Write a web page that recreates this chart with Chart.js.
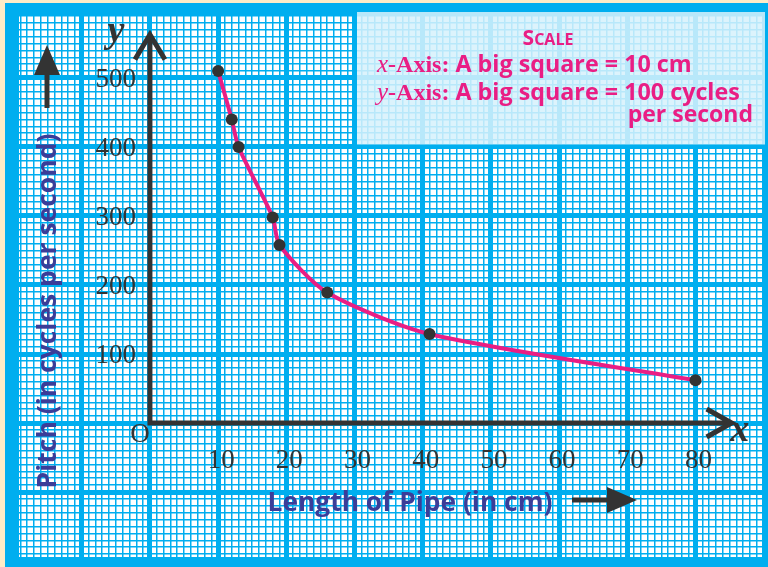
<!DOCTYPE html>
<html>
<head>
<meta charset="utf-8">
<script src="https://cdn.jsdelivr.net/npm/chart.js@4/dist/chart.umd.min.js"></script>
<style>
  html, body { margin: 0; padding: 0; background: #fdecc8; }
  #wrap { width: 768px; height: 567px; }
</style>
</head>
<body>
<div id="wrap"><canvas id="c" width="768" height="567"></canvas></div>
<script>
// ---- data ----
const lengthCm = [10, 12, 13, 18, 19, 26, 41, 80];
const pitchHz  = [510, 440, 400, 298, 258, 189, 129, 62];
const xTickLabels = ['10', '20', '30', '40', '50', '60', '70', '80'];
const yTickLabels = ['100', '200', '300', '400', '500'];
const xTitle = 'Length of Pipe (in cm)';
const yTitle = 'Pitch (in cycles per second)';
const scaleHeading = 'Scale';
const scaleLineX = ['x', '-Axis:', ' A big square = 10 cm'];
const scaleLineY = ['y', '-Axis:', ' A big square = 100 cycles'];
const scaleLineY2 = 'per second';

// ---- style ----
const BLUE = '#00aeef';
const CREAM = '#fdecc8';
const PINK = '#e91e84';
const DARK = '#333333';
const INDIGO = '#3b3d98';
const X_MIN = -19.2, X_MAX = 89.75;
const Y_MIN = -194.2, Y_MAX = 591.3;

function gridValues(min, max, step) {
  const out = [];
  for (let v = Math.ceil(min / step) * step; v <= max; v += step) out.push({ value: Math.round(v * 1000) / 1000 });
  return out;
}

const paperPlugin = {
  id: 'paper',
  beforeDraw(chart) {
    const { ctx, chartArea: a } = chart;
    ctx.save();
    ctx.fillStyle = CREAM;
    ctx.fillRect(0, 0, chart.width, chart.height);
    ctx.fillStyle = BLUE;
    ctx.fillRect(5, 3, chart.width - 5, chart.height - 3);
    ctx.fillStyle = '#ffffff';
    ctx.fillRect(a.left, a.top, a.right - a.left, a.bottom - a.top);
    ctx.restore();
  }
};

function fitFont(ctx, text, style, family, target) {
  ctx.font = style + ' 20px ' + family;
  const w = ctx.measureText(text).width;
  return 20 * target / w;
}

const decoPlugin = {
  id: 'deco',
  beforeDatasetsDraw(chart) {
    const { ctx, chartArea: a, scales: { x, y } } = chart;
    ctx.save();
    // scale box
    const bx = x.getPixelForValue(30) + 2.5;
    const by = 12;
    const bb = y.getPixelForValue(400) - 2.5;
    ctx.fillStyle = 'rgba(214,241,251,0.86)';
    ctx.fillRect(bx, by, chart.width - 3 - bx, bb - by);

    // axes
    const x0 = x.getPixelForValue(0), y0 = y.getPixelForValue(0);
    const yTop = y.getPixelForValue(563), xEnd = x.getPixelForValue(85.3);
    ctx.strokeStyle = DARK;
    ctx.lineWidth = 5;
    ctx.lineJoin = 'miter';
    ctx.beginPath();
    ctx.moveTo(x0, y0 + 2.5); ctx.lineTo(x0, yTop + 2);
    ctx.moveTo(x0 - 2.5, y0); ctx.lineTo(xEnd - 2, y0);
    ctx.stroke();
    ctx.beginPath();
    ctx.moveTo(x0 - 15, yTop + 25); ctx.lineTo(x0, yTop); ctx.lineTo(x0 + 15, yTop + 25);
    ctx.moveTo(xEnd - 25, y0 - 14); ctx.lineTo(xEnd, y0); ctx.lineTo(xEnd - 25, y0 + 14);
    ctx.stroke();

    // tick labels
    ctx.fillStyle = DARK;
    ctx.font = '27px "Liberation Serif", "Times New Roman", serif';
    ctx.textAlign = 'right';
    ctx.textBaseline = 'alphabetic';
    yTickLabels.forEach(t => {
      ctx.fillText(t, x0 - 14, y.getPixelForValue(Number(t)) + 9);
    });
    ctx.textAlign = 'center';
    xTickLabels.forEach(t => {
      ctx.fillText(t, x.getPixelForValue(Number(t)) + 3, y0 + 45);
    });
    ctx.fillText('O', x0 - 10, y0 + 19);

    // axis letters
    ctx.font = 'italic bold 38px "Liberation Serif", serif';
    ctx.fillText('y', x0 - 34, 42);
    ctx.fillText('x', x.getPixelForValue(86.5), y0 + 18);

    // axis titles
    ctx.fillStyle = INDIGO;
    let fs = fitFont(ctx, xTitle, 'bold', '"Open Sans"', 285);
    ctx.font = 'bold ' + fs + 'px "Open Sans"';
    ctx.textAlign = 'center';
    ctx.fillText(xTitle, 410, 511);
    fs = fitFont(ctx, yTitle, 'bold', '"Open Sans"', 355);
    ctx.font = 'bold ' + fs + 'px "Open Sans"';
    ctx.save();
    ctx.translate(56, 311);
    ctx.rotate(-Math.PI / 2);
    ctx.fillText(yTitle, 0, 0);
    ctx.restore();

    // arrows next to titles
    ctx.strokeStyle = DARK; ctx.fillStyle = DARK; ctx.lineWidth = 5;
    ctx.beginPath(); ctx.moveTo(47, 108); ctx.lineTo(47, 70); ctx.stroke();
    ctx.beginPath(); ctx.moveTo(47, 45); ctx.lineTo(60, 75); ctx.lineTo(34, 75); ctx.closePath(); ctx.fill();
    ctx.beginPath(); ctx.moveTo(572, 500); ctx.lineTo(610, 500); ctx.stroke();
    ctx.beginPath(); ctx.moveTo(637, 500); ctx.lineTo(607, 487); ctx.lineTo(607, 513); ctx.closePath(); ctx.fill();

    // scale text
    ctx.fillStyle = PINK;
    ctx.textAlign = 'left';
    ctx.font = 'bold 21px "Open Sans"';
    const sW = ctx.measureText('S').width;
    ctx.font = 'bold 16px "Open Sans"';
    const rest = scaleHeading.slice(1).toUpperCase();
    const rW = ctx.measureText(rest).width;
    const sx = 548 - (sW + rW) / 2;
    ctx.font = 'bold 21px "Open Sans"';
    ctx.fillText('S', sx, 45);
    ctx.font = 'bold 16px "Open Sans"';
    ctx.fillText(rest, sx + sW, 45);

    function drawScaleLine(parts, xs, base) {
      let cx = xs;
      ctx.font = 'italic 25px "Liberation Serif", serif';
      ctx.fillText(parts[0], cx, base); cx += ctx.measureText(parts[0]).width;
      ctx.font = 'bold 24px "Liberation Serif", serif';
      ctx.fillText(parts[1], cx, base); cx += ctx.measureText(parts[1]).width;
      ctx.font = 'bold 23.3px "Open Sans"';
      ctx.fillText(parts[2], cx, base);
    }
    drawScaleLine(scaleLineX, 377, 72);
    drawScaleLine(scaleLineY, 377, 100);
    ctx.textAlign = 'right';
    ctx.font = 'bold 23px "Open Sans"';
    ctx.fillText(scaleLineY2, 753, 122);
    ctx.restore();
  }
};

new Chart(document.getElementById('c'), {
  type: 'line',
  data: {
    datasets: [{
      data: lengthCm.map((v, i) => ({ x: v, y: pitchHz[i] })),
      borderColor: PINK,
      borderWidth: 4,
      pointRadius: 6,
      pointHoverRadius: 6,
      pointBackgroundColor: DARK,
      pointBorderWidth: 0,
      tension: 0.25,
      fill: false
    }]
  },
  options: {
    responsive: false,
    animation: false,
    devicePixelRatio: 1,
    layout: { padding: { left: 19, top: 15, right: 0, bottom: 10 } },
    plugins: { legend: { display: false }, tooltip: { enabled: false } },
    scales: {
      x: {
        type: 'linear', min: X_MIN, max: X_MAX,
        afterFit: s => { s.height = 0; s.paddingLeft = 0; s.paddingRight = 0; },
        afterBuildTicks: s => { s.ticks = gridValues(X_MIN, X_MAX, 1); },
        ticks: { display: false, padding: 0 },
        border: { display: false },
        grid: {
          drawTicks: false, tickLength: 0, color: BLUE,
          lineWidth: c => (c.tick && Math.abs(c.tick.value % 10) < 1e-6) ? 5 : 1.5
        }
      },
      y: {
        type: 'linear', min: Y_MIN, max: Y_MAX,
        afterFit: s => { s.width = 0; s.paddingTop = 0; s.paddingBottom = 0; },
        afterBuildTicks: s => { s.ticks = gridValues(Y_MIN, Y_MAX, 10); },
        ticks: { display: false, padding: 0 },
        border: { display: false },
        grid: {
          drawTicks: false, tickLength: 0, color: BLUE,
          lineWidth: c => (c.tick && Math.abs(c.tick.value % 100) < 1e-6) ? 5 : 1.5
        }
      }
    }
  },
  plugins: [paperPlugin, decoPlugin]
});
</script>
</body>
</html>
